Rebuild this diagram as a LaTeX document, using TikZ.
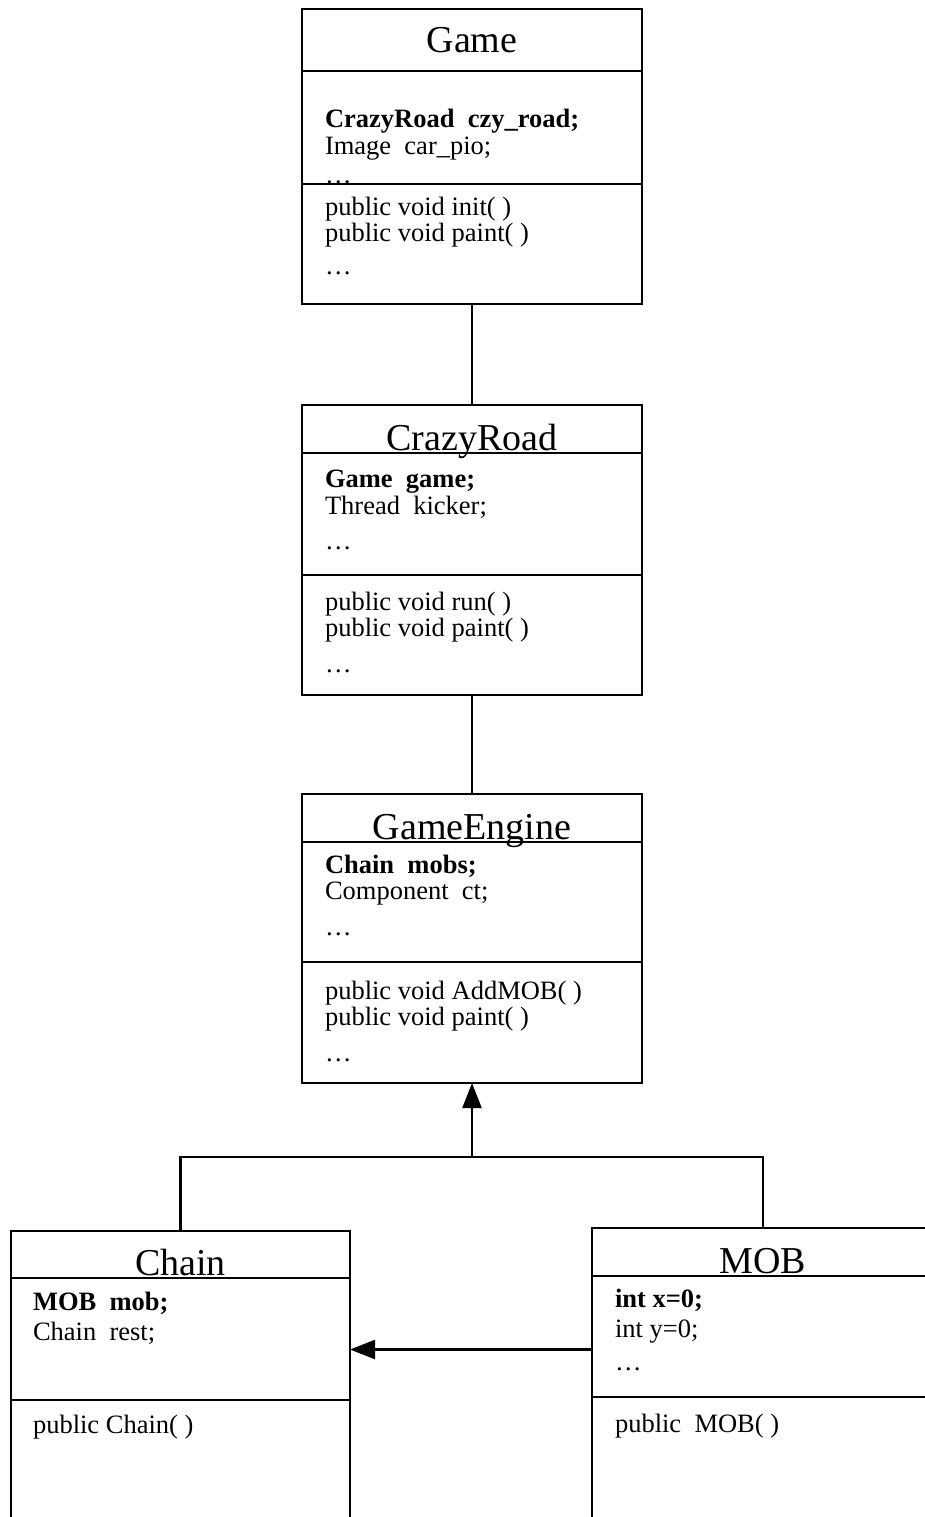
\documentclass[tikz,border=0pt]{standalone}
\usepackage{fontspec}
\setmainfont{Liberation Serif}
\usetikzlibrary{shapes,arrows,arrows.meta,positioning}

\begin{document}
\begin{tikzpicture}[x=1pt,y=-1pt,node distance=0pt,line width=2.2pt]
\tikzstyle{every node}=[inner sep=0pt,outer sep=0pt]
\tikzstyle{part}=[draw=black,minimum width=340pt,text depth=2pt,text height=44pt]
\tikzstyle{head}=[part,font=\fontsize{38}{40}\selectfont]
\tikzstyle{body}=[align=left,font=\fontsize{26.5}{26.5}\selectfont]
\tikzstyle{lowbody}=[align=left,font=\fontsize{26.5}{30}\selectfont]
\tikzstyle{inherit}=[-{Triangle[length=25pt,width=19pt]}]

\useasboundingbox (0,0) rectangle (924,1517);

% Game
\node[head,anchor=north west,minimum height=62pt,text height=28pt] (game) at (302,9) {Game};
\node[part,minimum height=113pt] (game-a) [below=of game] {};
\node[part,minimum height=120pt] (game-m) [below=of game-a] {};
\node[body,anchor=north west] (game-at) [below right=38pt and 23pt of game-a.north west]
  {\textbf{CrazyRoad\ \ czy\_road;}\\[1pt] Image\ \ car\_pio;\\[2pt] \dots};
\node[body,anchor=north west] (game-mt) [below right=13pt and 23pt of game-m.north west]
  {public void init( )\\ public void paint( )\\[6pt] \dots};

% CrazyRoad
\node[head,anchor=north west,minimum height=48pt] (crazy) at (302,405) {CrazyRoad};
\node[part,minimum height=122pt] (crazy-a) [below=of crazy] {};
\node[part,minimum height=120pt] (crazy-m) [below=of crazy-a] {};
\node[body] (crazy-at) [below right=17pt and 23pt of crazy-a.north west]
  {\textbf{Game\ \ game;}\\ Thread\ \ kicker;\\[9pt] \dots};
\node[body] (crazy-mt) [below right=17pt and 23pt of crazy-m.north west]
  {public void run( )\\ public void paint( )\\[9pt] \dots};

% GameEngine
\node[head,anchor=north west,minimum height=48pt] (engine) at (302,794) {GameEngine};
\node[part,minimum height=120pt] (engine-a) [below=of engine] {};
\node[part,minimum height=121pt] (engine-m) [below=of engine-a] {};
\node[body] (engine-at) [below right=13pt and 23pt of engine-a.north west]
  {\textbf{Chain\ \ mobs;}\\ Component\ \ ct;\\[9pt] \dots};
\node[body] (engine-mt) [below right=19pt and 23pt of engine-m.north west]
  {public void AddMOB( )\\ public void paint( )\\[9pt] \dots};

% Chain
\node[head,anchor=north west,minimum width=339pt,minimum height=47pt] (chain) at (11,1231) {Chain};
\node[part,minimum width=339pt,minimum height=122pt] (chain-a) [below=of chain] {};
\node[part,minimum width=339pt,minimum height=140pt] (chain-m) [below=of chain-a] {};
\node[lowbody] (chain-at) [below right=14pt and 22pt of chain-a.north west]
  {\textbf{MOB\ \ mob;}\\ Chain\ \ rest;};
\node[lowbody] (chain-mt) [below right=15pt and 22pt of chain-m.north west]
  {public Chain( )};

% MOB
\node[head,anchor=north west,minimum width=342pt,minimum height=48pt] (mob) at (592,1228) {MOB};
\node[part,minimum width=342pt,minimum height=121pt] (mob-a) [below=of mob] {};
\node[part,minimum width=342pt,minimum height=140pt] (mob-m) [below=of mob-a] {};
\node[lowbody] (mob-at) [below right=13pt and 23pt of mob-a.north west]
  {\textbf{int x=0;}\\ int y=0;\\[3pt] \dots};
\node[lowbody] (mob-mt) [below right=17pt and 23pt of mob-m.north west]
  {public\ \ MOB( )};

% links
\coordinate (fork) at (472,1157);
\draw (game-m.south) -- (crazy.north);
\draw (crazy-m.south) -- (engine.north);
\draw[inherit] (fork) -- (engine-m.south);
\draw (chain.north) |- (fork) -| (mob.north);
\draw[inherit] ([yshift=-13pt]mob-a.west) -- ([yshift=-13pt]mob-a.west -| chain-a.east);
\end{tikzpicture}
\end{document}
